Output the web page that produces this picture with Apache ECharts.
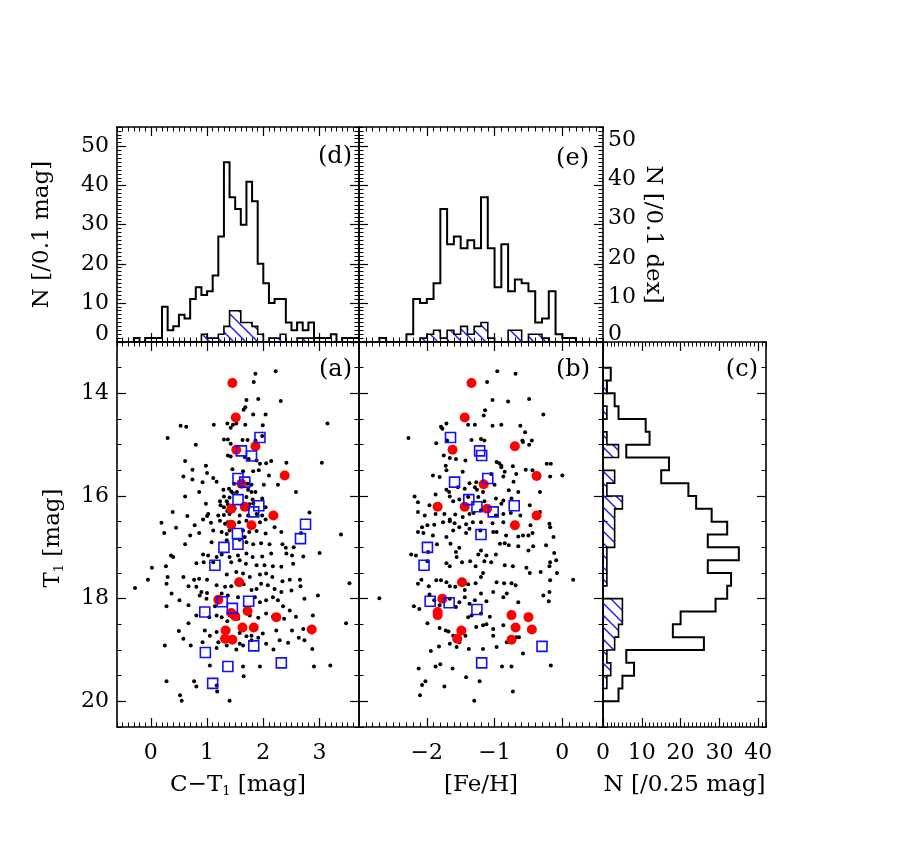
<!DOCTYPE html>
<html>
<head>
<meta charset="utf-8">
<script src="https://cdn.jsdelivr.net/npm/echarts@6/dist/echarts.min.js"></script>
<style>
  html, body { margin: 0; padding: 0; background: #fff; }
  #chart { width: 899px; height: 855px; }
</style>
</head>
<body>
<div id="chart"></div>
<script>
// ---- data ----
// C-T1 histogram, 0.1 mag bins starting at ctBinStart
const ctBinStart = -0.3
const ctCounts = [1, 0, 1, 1, 1, 9, 3, 4, 7, 6, 11, 14, 12, 13, 17, 27, 46, 37, 34, 30,
  41, 36, 20, 15, 10, 11, 11, 5, 3, 5, 3, 5, 1, 1, 1, 2, 0, 1, 1, 1]
const ctHatch = [0, 0, 0, 0, 0, 0, 0, 0, 0, 0, 0, 0, 2, 1, 1, 2, 4, 8, 8, 5,
  5, 4, 2, 0, 1, 1, 2, 0, 0, 1, 1, 1]

// [Fe/H] histogram, 0.1 dex bins
const fehBinStart = -2.7
const fehCounts = [1, 0, 0, 0, 2, 11, 10, 11, 15, 34, 25, 27, 24, 26, 24, 37, 24, 14, 25, 13,
  16, 15, 13, 5, 6, 13, 2, 1, 1]
const fehHatch = [0, 0, 0, 0, 0, 0, 1, 2, 3, 1, 3, 2, 4, 2, 4, 5, 1, 0, 0, 3,
  3, 0, 2, 2, 1]

// T1 histogram, 0.25 mag bins
const t1BinStart = 13.5
const t1Counts = [2, 1, 3, 4, 11, 12, 6, 17, 15, 22, 24, 28, 32, 27, 35, 27, 33, 32, 29, 20,
  18, 26, 6, 8, 5, 4]
const t1Hatch = [0, 1, 0, 1, 0, 1, 4, 0, 3, 1, 5, 3, 3, 3, 1, 1, 1, 0, 5, 5,
  4, 3, 1, 2, 1, 0]

// panel (a): [C-T1, T1]
const dotsA = [
  [2.22,13.57],[1.86,13.62],[1.83,13.78],[1.70,14.13],[1.91,14.11],[2.31,14.15],[1.65,14.32],[1.68,14.27],
  [1.82,14.41],[2.04,14.41],[0.53,14.63],[0.63,14.65],[1.12,14.61],[1.36,14.59],[1.42,14.67],[1.46,14.61],
  [1.52,14.59],[1.68,14.61],[1.99,14.62],[3.14,14.59],[0.30,14.87],[0.80,15.00],[1.30,14.90],[1.37,14.90],
  [1.42,14.98],[1.63,14.91],[1.72,14.91],[1.86,14.92],[1.98,14.83],[1.37,15.21],[1.42,15.23],[1.67,15.24],
  [1.74,15.28],[1.88,15.31],[1.94,15.37],[2.05,15.36],[2.14,15.32],[2.41,15.35],[3.04,15.35],[0.61,15.32],
  [0.98,15.41],[0.74,15.49],[0.58,15.62],[1.00,15.55],[1.11,15.65],[1.45,15.48],[1.64,15.52],[1.82,15.52],
  [1.92,15.50],[2.10,15.60],[0.74,15.68],[0.92,15.73],[1.17,15.72],[1.48,15.76],[1.72,15.76],[1.79,15.78],
  [2.01,15.78],[2.26,15.78],[1.29,15.88],[1.39,15.86],[1.43,15.91],[1.46,15.94],[1.53,15.92],[1.73,15.88],
  [1.79,15.92],[1.86,15.92],[0.86,15.92],[0.61,16.01],[1.30,16.01],[1.35,16.10],[1.40,16.03],[1.70,16.02],
  [1.81,16.07],[1.98,16.05],[2.58,15.92],[0.98,16.15],[1.23,16.10],[1.24,16.18],[1.30,16.22],[1.37,16.16],
  [1.75,16.16],[1.49,16.24],[1.73,16.25],[1.82,16.14],[2.04,16.22],[0.39,16.31],[0.65,16.39],[1.02,16.35],
  [1.00,16.39],[1.20,16.38],[1.30,16.37],[1.36,16.29],[1.40,16.35],[1.58,16.38],[1.73,16.38],[1.88,16.35],
  [1.98,16.38],[2.82,16.32],[0.19,16.52],[0.45,16.62],[0.78,16.57],[0.93,16.46],[1.07,16.52],[1.23,16.48],
  [1.32,16.54],[1.37,16.51],[1.57,16.51],[1.70,16.48],[1.94,16.51],[2.04,16.46],[2.20,16.61],[0.24,16.72],
  [0.70,16.77],[0.86,16.72],[1.11,16.67],[1.26,16.70],[1.35,16.74],[1.40,16.67],[1.64,16.67],[1.67,16.80],
  [1.75,16.70],[1.88,16.68],[2.67,16.72],[3.38,16.75],[2.04,16.73],[2.32,16.70],[0.61,16.94],[1.08,16.90],
  [1.35,16.86],[1.58,16.85],[1.70,16.90],[1.82,16.94],[1.96,16.92],[2.11,16.94],[2.34,16.94],[2.40,17.01],
  [2.54,17.00],[0.36,17.16],[0.40,17.19],[0.93,17.14],[1.02,17.16],[1.17,17.19],[1.26,17.14],[1.40,17.19],
  [1.55,17.16],[1.70,17.12],[1.81,17.19],[1.98,17.18],[2.14,17.12],[2.41,17.12],[2.51,17.16],[2.71,17.18],
  [3.00,17.11],[0.02,17.40],[0.27,17.37],[0.81,17.31],[0.94,17.29],[1.11,17.29],[1.43,17.29],[1.58,17.25],
  [1.69,17.32],[1.88,17.35],[2.02,17.35],[2.17,17.37],[2.32,17.38],[2.53,17.32],[-0.05,17.63],[0.30,17.58],
  [0.58,17.58],[0.77,17.63],[0.86,17.61],[1.00,17.63],[1.35,17.53],[1.52,17.48],[1.64,17.51],[1.76,17.58],
  [1.94,17.53],[2.05,17.51],[2.16,17.58],[2.34,17.66],[2.47,17.63],[2.65,17.63],[-0.28,17.79],[0.28,17.71],
  [0.37,17.90],[0.51,18.03],[0.67,17.76],[0.81,17.77],[0.90,17.87],[1.00,17.89],[1.17,17.74],[1.26,17.90],
  [1.32,17.77],[1.43,17.76],[1.65,17.72],[1.79,17.83],[1.88,17.81],[1.96,17.71],[2.08,17.74],[2.20,17.81],
  [2.32,17.87],[2.50,17.84],[2.66,17.76],[3.53,17.70],[0.28,18.15],[0.67,18.13],[0.87,17.94],[0.99,18.00],
  [1.14,18.15],[1.37,17.94],[1.55,17.97],[1.85,17.97],[1.94,18.07],[2.05,18.03],[2.17,17.97],[2.26,18.03],
  [2.35,18.15],[2.47,18.23],[2.73,18.00],[2.97,17.94],[0.50,18.63],[0.67,18.48],[0.81,18.33],[1.04,18.36],
  [1.17,18.33],[1.26,18.36],[1.36,18.44],[1.55,18.39],[1.76,18.33],[1.91,18.37],[2.05,18.29],[2.17,18.35],
  [2.37,18.39],[2.58,18.35],[2.88,18.33],[3.47,18.48],[0.25,18.91],[0.71,18.91],[0.96,18.62],[1.05,18.72],
  [1.17,18.65],[1.58,18.67],[1.70,18.73],[1.79,18.72],[1.99,18.68],[2.23,18.62],[2.51,18.62],[2.71,18.59],
  [0.58,18.78],[0.92,18.85],[1.20,18.85],[1.35,18.91],[1.58,18.88],[1.64,18.91],[1.79,18.81],[1.91,18.76],
  [2.05,18.88],[2.29,18.81],[2.44,18.86],[2.63,18.76],[2.73,18.81],[2.87,18.98],[1.17,18.96],[1.52,18.99],
  [2.18,18.99],[1.05,19.30],[1.64,19.32],[1.94,19.32],[2.90,19.32],[3.19,19.30],[0.28,19.61],[0.77,19.61],
  [0.81,19.71],[1.18,19.81],[1.17,19.69],[1.65,19.51],[0.52,19.88],[0.55,19.99],[1.40,19.99]
]
const redA = [
  [1.45,13.80],[1.51,14.47],[1.52,15.10],[1.86,15.03],[2.38,15.60],[1.61,15.76],[1.43,16.25],[1.67,16.21],
  [2.18,16.38],[1.43,16.56],[1.79,16.57],[1.57,17.68],[1.20,18.02],[1.43,18.28],[1.50,18.34],[1.72,18.24],
  [2.23,18.36],[1.33,18.62],[1.63,18.56],[1.83,18.56],[2.86,18.60],[1.32,18.78],[1.45,18.80]
]
const squaresA = [
  [1.94,14.86],[1.61,15.12],[1.79,15.22],[1.55,15.66],[1.67,15.73],[1.55,16.07],[1.92,16.19],[1.83,16.31],
  [2.75,16.55],[2.66,16.83],[1.54,16.73],[1.30,17.00],[1.55,16.94],[1.14,17.35],[1.27,18.06],[1.74,18.05],
  [1.45,18.19],[0.96,18.26],[1.83,18.92],[0.97,19.05],[2.32,19.25],[1.37,19.32],[1.10,19.65]
]

// panel (b): [[Fe/H], T1]
const dotsB = [
  [-0.96,13.57],[-0.69,13.62],[-1.11,13.78],[-1.03,14.13],[-0.80,14.16],[-0.49,14.11],[-1.14,14.33],[-1.16,14.43],
  [-1.39,14.61],[-1.29,14.61],[-1.03,14.63],[-0.90,14.61],[-0.62,14.63],[-0.55,14.76],[-0.28,14.41],[-1.79,14.65],
  [-1.77,14.69],[-1.71,14.59],[-2.27,14.87],[-1.86,14.97],[-1.70,14.92],[-1.34,14.91],[-1.20,14.89],[-1.15,14.92],
  [-0.59,14.92],[-0.58,14.95],[-0.45,14.92],[-0.49,15.00],[-1.75,15.21],[-1.66,15.26],[-1.57,15.28],[-1.43,15.31],
  [-0.97,15.34],[-0.93,15.36],[-0.90,15.41],[-0.73,15.42],[-0.68,15.57],[-0.23,15.37],[-0.17,15.37],[-0.18,15.62],
  [0.00,15.60],[-1.91,15.60],[-1.81,15.63],[-1.72,15.41],[-1.71,15.50],[-1.47,15.53],[-1.37,15.75],[-1.27,15.73],
  [-1.29,15.83],[-1.05,15.57],[-0.90,15.44],[-0.87,15.62],[-0.85,15.53],[-0.72,15.72],[-0.54,15.49],[-0.44,15.50],
  [-1.71,15.88],[-1.67,15.92],[-1.54,15.83],[-1.44,15.86],[-1.26,15.88],[-1.17,15.92],[-1.00,15.78],[-0.79,15.89],
  [-0.65,15.92],[-0.33,15.92],[-2.18,16.01],[-2.13,16.12],[-1.87,15.97],[-1.96,16.18],[-1.66,16.01],[-1.61,16.10],
  [-1.52,16.07],[-1.39,16.02],[-1.24,16.02],[-1.15,16.10],[-0.98,16.05],[-0.90,16.15],[-0.87,16.09],[-0.75,16.05],
  [-0.48,16.18],[-2.13,16.31],[-2.03,16.38],[-1.87,16.35],[-1.74,16.35],[-1.66,16.46],[-1.58,16.36],[-1.47,16.41],
  [-1.37,16.35],[-1.31,16.33],[-1.20,16.28],[-1.08,16.25],[-0.98,16.38],[-0.87,16.35],[-0.76,16.33],[-0.62,16.38],
  [-0.33,16.31],[-2.07,16.61],[-1.99,16.57],[-1.89,16.56],[-1.76,16.51],[-1.66,16.49],[-1.59,16.53],[-1.42,16.55],
  [-1.32,16.51],[-1.20,16.51],[-1.03,16.53],[-0.87,16.51],[-0.47,16.57],[-0.19,16.54],[-2.13,16.70],[-2.05,16.72],
  [-1.91,16.77],[-1.71,16.80],[-1.61,16.67],[-1.52,16.61],[-1.42,16.72],[-1.37,16.64],[-1.21,16.67],[-0.97,16.70],
  [-0.83,16.77],[-0.65,16.79],[-0.50,16.77],[-0.44,16.72],[-0.18,16.61],[-0.13,16.80],[-1.02,16.70],[-0.58,16.77],
  [-2.23,17.14],[-2.16,17.16],[-1.98,17.09],[-1.85,16.94],[-1.65,16.93],[-1.57,17.09],[-1.52,17.01],[-1.24,17.14],
  [-1.20,17.06],[-1.12,17.16],[-0.98,17.14],[-0.92,16.93],[-0.85,16.92],[-0.79,16.96],[-0.65,16.98],[-0.50,17.06],
  [-0.43,16.98],[-0.24,16.96],[-0.18,17.29],[-0.12,17.11],[-0.09,17.25],[-1.99,17.27],[-1.71,17.31],[-1.66,17.37],
  [-1.56,17.19],[-1.48,17.29],[-1.36,17.27],[-1.28,17.37],[-1.15,17.27],[-1.05,17.29],[-0.85,17.35],[-0.73,17.37],
  [-0.53,17.40],[-0.48,17.50],[-0.19,17.37],[-0.08,17.50],[-2.13,17.71],[-2.08,17.63],[-1.97,17.76],[-1.86,17.64],
  [-1.79,17.64],[-1.71,17.68],[-1.66,17.76],[-1.58,17.77],[-1.44,17.83],[-1.39,17.72],[-1.28,17.70],[-1.20,17.58],
  [-1.17,17.50],[-0.97,17.68],[-0.86,17.70],[-0.75,17.70],[-0.69,17.74],[-0.32,17.48],[-0.18,17.64],[0.16,17.63],
  [-0.19,17.87],[-0.28,17.94],[-0.20,18.05],[-2.70,17.99],[-2.19,18.15],[-2.11,18.20],[-1.96,17.92],[-1.89,18.03],
  [-1.81,18.13],[-1.66,18.00],[-1.57,18.16],[-1.52,18.07],[-1.44,17.97],[-1.37,18.10],[-1.29,18.03],[-1.20,17.90],
  [-1.12,18.05],[-1.02,17.87],[-0.87,17.97],[-0.82,17.90],[-0.65,18.07],[-1.39,18.36],[-1.34,18.33],[-1.20,18.29],
  [-1.07,18.35],[-1.99,18.48],[-1.81,18.57],[-1.72,18.62],[-1.68,18.64],[-1.61,18.72],[-1.57,18.74],[-1.52,18.85],
  [-1.43,18.72],[-1.27,18.55],[-1.17,18.52],[-1.12,18.50],[-1.02,18.59],[-1.02,18.72],[-0.87,18.52],[-0.82,18.85],
  [-0.68,18.75],[-0.64,18.75],[-0.58,19.07],[-1.94,19.02],[-1.82,18.93],[-1.66,18.88],[-1.56,18.94],[-1.38,18.98],
  [-1.17,18.98],[-0.97,18.94],[-1.87,19.32],[-1.80,19.28],[-1.62,19.36],[-1.42,19.53],[-0.89,19.32],[-0.75,19.32],
  [-2.12,19.36],[-2.02,19.61],[-2.07,19.68],[-1.74,19.71],[-1.22,19.61],[-0.73,19.81],[-2.10,19.88],[-1.30,19.99],
  [-0.17,19.30]
]
const redB = [
  [-1.34,13.80],[-1.44,14.47],[-1.62,15.10],[-0.70,15.03],[-0.38,15.61],[-1.16,15.77],[-1.84,16.21],[-1.44,16.21],
  [-1.11,16.25],[-0.38,16.38],[-0.70,16.57],[-1.48,17.68],[-1.77,18.00],[-1.84,18.26],[-1.84,18.32],[-0.75,18.32],
  [-0.50,18.36],[-1.49,18.62],[-0.69,18.56],[-0.45,18.60],[-1.55,18.78],[-0.75,18.80]
]
const squaresB = [
  [-1.65,14.86],[-1.22,15.12],[-1.19,15.21],[-1.10,15.66],[-1.59,15.73],[-1.38,16.07],[-1.26,16.21],[-1.02,16.31],
  [-0.71,16.19],[-1.20,16.75],[-1.99,17.00],[-2.04,17.35],[-1.95,18.05],[-1.67,18.08],[-1.26,18.21],[-0.30,18.93],
  [-1.19,19.25]
]

// tick labels
const ctTicks = [0, 1, 2, 3]
const fehTicks = [-2, -1, 0]
const t1Ticks = [14, 16, 18, 20]
const nTicks = [0, 10, 20, 30, 40, 50]
const ncTicks = [0, 10, 20, 30, 40]

// ---- drawing ----
const SERIF = '"DejaVu Serif", serif'
const chart = echarts.init(document.getElementById('chart'))

const hatchCanvas = document.createElement('canvas')
hatchCanvas.width = 12
hatchCanvas.height = 12
const hc = hatchCanvas.getContext('2d')
hc.strokeStyle = '#1a1aff'
hc.lineWidth = 1.4
hc.beginPath()
hc.moveTo(-2, -2); hc.lineTo(14, 14)
hc.moveTo(-2, 10); hc.lineTo(2, 14)
hc.moveTo(10, -2); hc.lineTo(14, 2)
hc.stroke()
const hatchPattern = { image: hatchCanvas, repeat: 'repeat' }

const nameRich = {
  t: { fontFamily: SERIF, fontSize: 23, color: '#000', lineHeight: 26 },
  s: { fontFamily: SERIF, fontSize: 13, color: '#000', lineHeight: 16, verticalAlign: 'bottom' }
}

const xAxes = []
const yAxes = []

// one long-tick axis line plus one short-tick axis on the same side
function addAxis(list, grid, side, min, max, major, minorStep, inverse, label, extra) {
  const idx = list.length
  list.push(Object.assign({
    type: 'value', gridIndex: grid, position: side, min: min, max: max, inverse: inverse,
    axisLine: { show: true, onZero: false, lineStyle: { color: '#000', width: 1.6 } },
    axisTick: { show: true, inside: true, length: 9, customValues: major, lineStyle: { color: '#000', width: 1.2 } },
    axisLabel: label ? Object.assign({ customValues: major, color: '#000', fontFamily: SERIF, fontSize: 22 }, label) : { show: false },
    splitLine: { show: false }
  }, extra || {}))
  list.push({
    type: 'value', gridIndex: grid, position: side, min: min, max: max, inverse: inverse, interval: minorStep,
    axisLine: { show: false, onZero: false },
    axisTick: { show: true, inside: true, length: 4.5, lineStyle: { color: '#000', width: 1 } },
    axisLabel: { show: false },
    splitLine: { show: false }
  })
  return idx
}

// (d)
const dX = addAxis(xAxes, 0, 'bottom', -0.6, 3.7, ctTicks, 0.1, false, null)
addAxis(xAxes, 0, 'top', -0.6, 3.7, ctTicks, 0.1, false, null)
const dY = addAxis(yAxes, 0, 'left', 0, 55, nTicks, 1, false, {
  margin: 8,
  formatter: v => v === 0 ? '{z|0}' : '{n|' + v + '}',
  rich: { n: { fontFamily: SERIF, fontSize: 22 }, z: { fontFamily: SERIF, fontSize: 22, padding: [0, 0, 16, 0] } }
}, { name: '{t|N [/0.1 mag]}', nameLocation: 'middle', nameGap: 62, nameTextStyle: { rich: nameRich } })
addAxis(yAxes, 0, 'right', 0, 55, nTicks, 1, false, null)

// (e)
const eX = addAxis(xAxes, 1, 'bottom', -3.0, 0.6, fehTicks, 0.1, false, null)
addAxis(xAxes, 1, 'top', -3.0, 0.6, fehTicks, 0.1, false, null)
const eY = addAxis(yAxes, 1, 'left', 0, 55, nTicks, 1, false, null)
addAxis(yAxes, 1, 'right', 0, 55, nTicks, 1, false, {
  margin: 5,
  formatter: v => v === 0 ? '{z|0}' : '{n|' + v + '}',
  rich: { n: { fontFamily: SERIF, fontSize: 22, padding: [0, 0, 12, 0] }, z: { fontFamily: SERIF, fontSize: 22, padding: [0, 0, 16, 0] } }
}, { name: '{t|N [/0.1 dex]}', nameLocation: 'middle', nameGap: 37, nameRotate: -90, nameTextStyle: { rich: nameRich } })

// (a)
const aX = addAxis(xAxes, 2, 'bottom', -0.6, 3.7, ctTicks, 0.1, false, { margin: 15 },
  { name: '{t|C\u2212T}{s|1}{t| [mag]}', nameLocation: 'middle', nameGap: 45, nameTextStyle: { rich: nameRich } })
addAxis(xAxes, 2, 'top', -0.6, 3.7, ctTicks, 0.1, false, null)
const aY = addAxis(yAxes, 2, 'left', 13, 20.5, t1Ticks, 0.5, true, { margin: 8 })
addAxis(yAxes, 2, 'right', 13, 20.5, t1Ticks, 0.5, true, null)

// (b)
const bX = addAxis(xAxes, 3, 'bottom', -3.0, 0.6, fehTicks, 0.1, false,
  { margin: 15, formatter: v => String(v).replace('-', '\u2212') },
  { name: '{t|[Fe/H]}', nameLocation: 'middle', nameGap: 45, nameTextStyle: { rich: nameRich } })
addAxis(xAxes, 3, 'top', -3.0, 0.6, fehTicks, 0.1, false, null)
const bY = addAxis(yAxes, 3, 'left', 13, 20.5, t1Ticks, 0.5, true, null)
addAxis(yAxes, 3, 'right', 13, 20.5, t1Ticks, 0.5, true, null)

// (c)
const cX = addAxis(xAxes, 4, 'bottom', 0, 42, ncTicks, 1, false, { margin: 15 },
  { name: '{t|N [/0.25 mag]}', nameLocation: 'middle', nameGap: 45, nameTextStyle: { rich: nameRich } })
addAxis(xAxes, 4, 'top', 0, 42, ncTicks, 1, false, null)
const cY = addAxis(yAxes, 4, 'left', 13, 20.5, t1Ticks, 0.5, true, null)
addAxis(yAxes, 4, 'right', 13, 20.5, t1Ticks, 0.5, true, null)

// step outline (or hatched polygon) of a histogram, mapped through the axes
function histSeries(xi, yi, start, width, counts, horizontal, hatch) {
  return {
    type: 'custom', xAxisIndex: xi, yAxisIndex: yi, silent: true, clip: true,
    data: [horizontal ? [0, start] : [start, 0]],
    renderItem: function (params, api) {
      const pts = [[start, 0]]
      counts.forEach(function (c, i) {
        pts.push([start + i * width, c], [start + (i + 1) * width, c])
      })
      pts.push([start + counts.length * width, 0])
      const px = pts.map(p => api.coord(horizontal ? [p[1], p[0]] : p))
      return {
        type: hatch ? 'polygon' : 'polyline',
        shape: { points: px },
        style: hatch
          ? { fill: hatchPattern, stroke: '#000', lineWidth: 1.6 }
          : { fill: null, stroke: '#000', lineWidth: 2 }
      }
    }
  }
}

function scatterSet(xi, yi, dots, reds, squares) {
  return [
    { type: 'scatter', xAxisIndex: xi, yAxisIndex: yi, data: dots, symbol: 'circle', symbolSize: 4,
      itemStyle: { color: '#000', opacity: 1 }, silent: true },
    { type: 'scatter', xAxisIndex: xi, yAxisIndex: yi, data: reds, symbol: 'circle', symbolSize: 10,
      itemStyle: { color: '#ff0000', opacity: 1 }, silent: true },
    { type: 'scatter', xAxisIndex: xi, yAxisIndex: yi, data: squares, symbol: 'rect', symbolSize: 10,
      itemStyle: { color: 'rgba(0,0,0,0)', borderColor: '#1010ff', borderWidth: 1.6, opacity: 1 }, silent: true }
  ]
}

function panelLabel(text, x, y) {
  return { type: 'text', x: x, y: y, style: { text: text, font: '24px ' + SERIF, fill: '#000', align: 'right', verticalAlign: 'middle' } }
}

const option = {
  animation: false,
  backgroundColor: '#fff',
  grid: [
    { left: 117, top: 127, width: 242, height: 215, outerBoundsMode: 'none' },
    { left: 359, top: 127, width: 244, height: 215, outerBoundsMode: 'none' },
    { left: 117, top: 342, width: 242, height: 385, outerBoundsMode: 'none' },
    { left: 359, top: 342, width: 244, height: 385, outerBoundsMode: 'none' },
    { left: 603, top: 342, width: 163, height: 385, outerBoundsMode: 'none' }
  ],
  xAxis: xAxes,
  yAxis: yAxes,
  graphic: [
    panelLabel('(d)', 352, 157),
    panelLabel('(e)', 589, 159),
    panelLabel('(a)', 352, 370),
    panelLabel('(b)', 590, 370),
    panelLabel('(c)', 758, 370),
    {
      type: 'text', x: 53, y: 538, rotation: Math.PI / 2,
      style: { text: '{t|T}{s|1}{t| [mag]}', rich: nameRich, align: 'center', verticalAlign: 'middle' }
    }
  ],
  series: [
    histSeries(dX, dY, ctBinStart, 0.1, ctHatch, false, true),
    histSeries(dX, dY, ctBinStart, 0.1, ctCounts, false, false),
    histSeries(eX, eY, fehBinStart, 0.1, fehHatch, false, true),
    histSeries(eX, eY, fehBinStart, 0.1, fehCounts, false, false),
    histSeries(cX, cY, t1BinStart, 0.25, t1Hatch, true, true),
    histSeries(cX, cY, t1BinStart, 0.25, t1Counts, true, false)
  ].concat(scatterSet(aX, aY, dotsA, redA, squaresA), scatterSet(bX, bY, dotsB, redB, squaresB))
}

chart.setOption(option)
</script>
</body>
</html>
